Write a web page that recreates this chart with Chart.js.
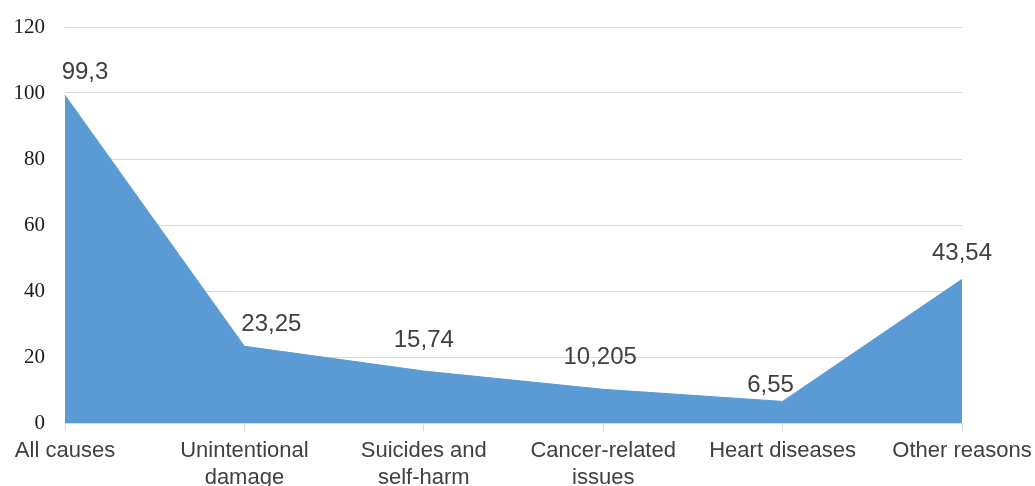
<!DOCTYPE html>
<html>
<head>
<meta charset="utf-8">
<script src="https://cdn.jsdelivr.net/npm/chart.js@4/dist/chart.umd.min.js"></script>
<style>
  html, body { margin: 0; padding: 0; background: #ffffff; }
  #wrap { width: 1035px; height: 486px; }
</style>
</head>
<body>
<div id="wrap"><canvas id="c" width="1035" height="486"></canvas></div>
<script>
// Causes of death and their values
const categories = [
  'All causes',
  ['Unintentional', 'damage'],
  ['Suicides and', 'self-harm'],
  ['Cancer-related', 'issues'],
  'Heart diseases',
  'Other reasons'
];
const values = [99.3, 23.25, 15.74, 10.205, 6.55, 43.54];
const yTicks = [0, 20, 40, 60, 80, 100, 120];

// Value labels use a decimal comma
const fmt = v => String(v).replace('.', ',');

// Label nudges (dx, dy in px) relative to each point
const labelNudge = [[20, -23], [27, -22], [0, -31], [-3, -32], [-12, -16], [0, -26]];

const valueLabels = {
  id: 'valueLabels',
  afterDatasetsDraw(chart) {
    const ctx = chart.ctx;
    const meta = chart.getDatasetMeta(0);
    ctx.save();
    ctx.font = '24px "Liberation Sans", Arial, sans-serif';
    ctx.fillStyle = '#404040';
    ctx.textAlign = 'center';
    ctx.textBaseline = 'middle';
    meta.data.forEach((pt, i) => {
      const [dx, dy] = labelNudge[i];
      ctx.fillText(fmt(values[i]), pt.x + dx, pt.y + dy);
    });
    ctx.restore();
  }
};

new Chart(document.getElementById('c'), {
  type: 'line',
  data: {
    labels: categories,
    datasets: [{
      data: values,
      fill: 'origin',
      backgroundColor: '#5b9bd5',
      borderColor: '#5b9bd5',
      borderWidth: 1,
      pointRadius: 0,
      tension: 0
    }]
  },
  options: {
    responsive: false,
    animation: false,
    layout: { padding: { top: 27, right: 73, left: 0, bottom: 0 } },
    plugins: { legend: { display: false }, tooltip: { enabled: false } },
    scales: {
      x: {
        offset: false,
        grid: { drawOnChartArea: false, drawTicks: true, tickLength: 8, color: '#d9d9d9' },
        border: { color: '#d9d9d9' },
        ticks: {
          color: '#404040',
          font: { family: '"Liberation Sans", Arial, sans-serif', size: 22, lineHeight: 1.25 },
          maxRotation: 0,
          autoSkip: false,
          padding: 6
        },
        afterFit: s => { s.height = 63; s.paddingLeft = 0; s.paddingRight = 0; }
      },
      y: {
        min: 0,
        max: 120,
        afterBuildTicks: s => { s.ticks = yTicks.map(v => ({ value: v })); },
        grid: { color: '#d9d9d9', drawTicks: false },
        border: { display: false },
        ticks: {
          color: '#1a1a1a',
          font: { family: '"Liberation Serif", "Times New Roman", serif', size: 21 },
          padding: 20
        },
        afterFit: s => { s.width = 65; s.paddingTop = 0; s.paddingBottom = 0; }
      }
    }
  },
  plugins: [valueLabels]
});
</script>
</body>
</html>
